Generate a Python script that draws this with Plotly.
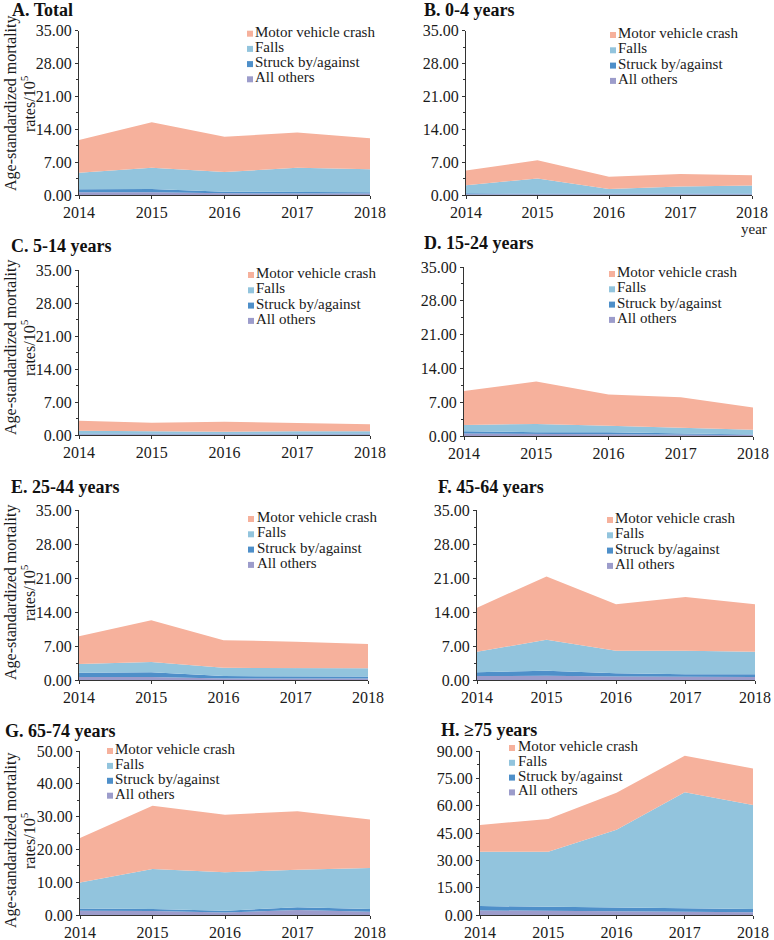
import plotly.graph_objects as go

# ---------------- data ----------------
years = [2014, 2015, 2016, 2017, 2018]
series_names = ["Motor vehicle crash", "Falls", "Struck by/against", "All others"]
series_colors = ["#F6B19C", "#92C4DD", "#4E8FC9", "#9C9CCB"]
panel_titles = ["A. Total", "B. 0-4 years", "C. 5-14 years", "D. 15-24 years",
                "E. 25-44 years", "F. 45-64 years", "G. 65-74 years", "H. \u226575 years"]
y_title_lines = ["Age-standardized mortality", "rates/10<sup>5</sup>"]

# component values (rates per 100,000), one list per panel A..H
motor_vehicle = [
    [6.95, 9.7, 7.5, 7.5, 6.6],
    [3.1, 3.9, 2.6, 2.7, 2.2],
    [2.1, 1.8, 2.1, 1.7, 1.5],
    [7.0, 8.8, 6.5, 6.35, 4.6],
    [5.7, 8.6, 5.7, 5.4, 5.0],
    [9.1, 13.0, 9.6, 11.1, 9.8],
    [13.6, 19.3, 17.6, 17.8, 14.8],
    [14.7, 18.0, 20.3, 20.1, 20.1],
]
falls = [
    [3.55, 4.5, 4.2, 5.1, 4.9],
    [1.75, 3.1, 1.0, 1.5, 1.7],
    [0.6, 0.5, 0.4, 0.5, 0.5],
    [1.3, 1.7, 1.3, 1.15, 1.0],
    [1.8, 2.1, 1.7, 1.7, 1.7],
    [4.2, 6.4, 4.6, 4.8, 4.6],
    [7.9, 12.2, 11.7, 11.4, 12.5],
    [29.8, 30.1, 42.8, 63.6, 57.0],
]
struck = [
    [0.6, 0.7, 0.35, 0.35, 0.3],
    [0.2, 0.25, 0.15, 0.15, 0.15],
    [0.15, 0.15, 0.15, 0.15, 0.15],
    [0.5, 0.4, 0.4, 0.2, 0.1],
    [0.9, 1.0, 0.5, 0.5, 0.4],
    [0.8, 1.0, 0.7, 0.6, 0.6],
    [0.7, 0.6, 0.5, 0.9, 0.8],
    [2.4, 2.2, 2.0, 1.9, 1.8],
]
all_others = [
    [0.6, 0.6, 0.35, 0.35, 0.3],
    [0.15, 0.15, 0.15, 0.15, 0.15],
    [0.15, 0.15, 0.15, 0.15, 0.15],
    [0.5, 0.4, 0.4, 0.3, 0.2],
    [0.6, 0.6, 0.3, 0.3, 0.3],
    [0.8, 0.9, 0.7, 0.6, 0.6],
    [1.3, 1.2, 0.8, 1.5, 1.0],
    [2.5, 2.4, 2.0, 1.8, 1.5],
]
y_max = [35, 35, 35, 35, 35, 35, 50, 90]
y_step = [7, 7, 7, 7, 7, 7, 10, 15]

# ---------------- layout geometry (pixels) ----------------
W, H = 774, 940
FONT = "Times New Roman, Liberation Serif, serif"
# plot area [x0, x1, ytop, ybottom]
boxes = [
    (79, 370, 30.7, 195), (466, 752, 30.7, 195),
    (79, 370, 270, 435), (464, 753, 267, 436),
    (79, 368, 510, 680), (477, 755, 510, 680),
    (80, 370, 751, 915), (480, 753, 751, 915),
]
title_pos = [(10, 10), (422, 10), (9, 246), (422, 243), (9, 487), (436, 487), (3, 731), (439, 730)]
ytitle_center = [103, None, 347, None, 592, None, 840, None]
ytitle_x = [11, 28]
# legend: (square x, text x, first row y, row gap)
legend_pos = [
    (247, 255, 31.7, 15.2), (610, 618, 33, 15.3),
    (248, 256, 273, 15.3), (609, 617, 272, 15.3),
    (248, 257, 517, 15.3), (607, 615, 518, 15.3),
    (107, 115, 749, 14.9), (509, 518, 746, 14.8),
]

def px(x):
    return x / W

def py(y):
    return 1 - y / H

fig = go.Figure()
stack_data = [all_others, struck, falls, motor_vehicle]
stack_names = ["All others", "Struck by/against", "Falls", "Motor vehicle crash"]
stack_colors = [series_colors[3], series_colors[2], series_colors[1], series_colors[0]]

layout = dict(
    width=W, height=H,
    margin=dict(l=0, r=0, t=0, b=0, autoexpand=False),
    paper_bgcolor="white", plot_bgcolor="white",
    font=dict(family=FONT, size=15, color="#1a1a1a"),
    showlegend=False,
)
annotations = []
shapes = []

for p in range(8):
    n = p + 1
    xa = "x" if n == 1 else f"x{n}"
    ya = "y" if n == 1 else f"y{n}"
    for data, name, color in zip(stack_data, stack_names, stack_colors):
        fig.add_trace(go.Scatter(
            x=years, y=data[p], name=name, mode="lines",
            line=dict(width=0, color=color), fillcolor=color,
            stackgroup=f"s{n}", xaxis=xa, yaxis=ya, showlegend=False,
        ))
    x0, x1, yt, yb = boxes[p]
    xkey = "xaxis" if n == 1 else f"xaxis{n}"
    ykey = "yaxis" if n == 1 else f"yaxis{n}"
    layout[xkey] = dict(
        domain=[px(x0), px(x1)], anchor=ya, range=[2014, 2018], automargin=False,
        tickmode="linear", tick0=2014, dtick=1, ticks="outside", ticklen=3,
        tickcolor="#333", showline=True, linecolor="#333", linewidth=1,
        showgrid=False, zeroline=False, tickfont=dict(family=FONT, size=16),
    )
    layout[ykey] = dict(
        domain=[py(yb), py(yt)], anchor=xa, range=[0, y_max[p]], automargin=False,
        tickmode="linear", tick0=0, dtick=y_step[p], tickformat=".2f",
        ticks="outside", ticklen=3, tickcolor="#333",
        minor=dict(ticks="outside", ticklen=2, dtick=y_step[p] / 2, tickcolor="#333"),
        showline=True, linecolor="#333", linewidth=1,
        showgrid=False, zeroline=False, tickfont=dict(family=FONT, size=16),
    )
    if ytitle_center[p] is not None:
        for line_text, lx0 in zip(y_title_lines, ytitle_x):
            annotations.append(dict(
                text=line_text, xref="paper", yref="paper",
                x=px(lx0), y=py(ytitle_center[p]), xanchor="center", yanchor="middle",
                textangle=-90, showarrow=False,
                font=dict(family=FONT, size=16, color="#1a1a1a"),
            ))

    tx, ty = title_pos[p]
    annotations.append(dict(
        text=f"<b>{panel_titles[p]}</b>", xref="paper", yref="paper",
        x=px(tx), y=py(ty), xanchor="left", yanchor="middle",
        showarrow=False, font=dict(family=FONT, size=18, color="#111"),
    ))
    sx, lx, ly, gap = legend_pos[p]
    for i, (name, color) in enumerate(zip(series_names, series_colors)):
        yc = ly + i * gap
        shapes.append(dict(
            type="rect", xref="paper", yref="paper",
            x0=px(sx), x1=px(sx + 6), y0=py(yc + 5), y1=py(yc - 1),
            fillcolor=color, line=dict(width=0),
        ))
        annotations.append(dict(
            text=name, xref="paper", yref="paper",
            x=px(lx - 2), y=py(yc), xanchor="left", yanchor="middle",
            showarrow=False, font=dict(family=FONT, size=15, color="#1a1a1a"),
        ))

annotations.append(dict(
    text="year", xref="paper", yref="paper", x=px(754), y=py(229),
    xanchor="center", yanchor="middle", showarrow=False,
    font=dict(family=FONT, size=15, color="#1a1a1a"),
))

layout["annotations"] = annotations
layout["shapes"] = shapes
fig.update_layout(**layout)
fig.write_html(
    "out.html",
    config={"displayModeBar": False},
    post_script="document.body.style.margin='0';document.body.style.overflow='hidden';",
)
